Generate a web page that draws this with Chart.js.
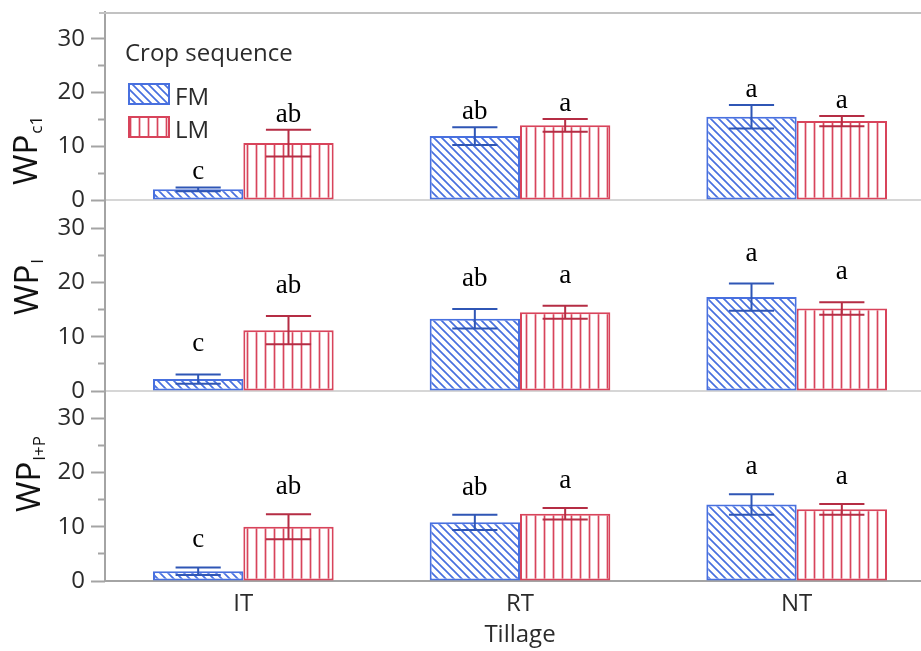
<!DOCTYPE html>
<html>
<head>
<meta charset="utf-8">
<script src="https://cdn.jsdelivr.net/npm/chart.js@4.4.1/dist/chart.umd.min.js"></script>
<style>
  html, body { margin: 0; padding: 0; background: #ffffff; overflow: hidden; width: 921px; height: 651px; }
  #wrap { position: relative; width: 921px; height: 651px; overflow: hidden; }
  #wrap canvas { position: absolute; left: 0; }
</style>
</head>
<body>
<div id="wrap">
  <canvas id="pTop" width="935" height="216" style="top:0px"></canvas>
  <canvas id="pMid" width="935" height="208" style="top:199px"></canvas>
  <canvas id="pBot" width="935" height="262" style="top:389px"></canvas>
</div>
<script>
// ---- data -------------------------------------------------------------
const tillage = ['IT', 'RT', 'NT'];
const sequences = ['FM', 'LM'];
const legendTitle = 'Crop sequence';
const xTitle = 'Tillage';
const yTickLabels = [0, 10, 20, 30];
const yMinorTicks = [5, 15, 25];

// WPc1
const wpc1FM   = [2.0, 11.9, 15.5];
const wpc1FMse = [0.35, 1.65, 2.2];
const wpc1LM   = [10.6, 13.9, 14.7];
const wpc1LMse = [2.5, 1.2, 0.95];

// WPI
const wpiFM   = [2.2, 13.3, 17.3];
const wpiFMse = [0.85, 1.8, 2.5];
const wpiLM   = [11.2, 14.5, 15.2];
const wpiLMse = [2.6, 1.2, 1.15];

// WPI+P
const wpipFM   = [1.8, 10.8, 14.1];
const wpipFMse = [0.7, 1.4, 1.9];
const wpipLM   = [10.0, 12.4, 13.2];
const wpipLMse = [2.3, 1.05, 1.0];

// mean separation letters
const lettersFM = ['c', 'ab', 'a'];
const lettersLM = ['ab', 'a', 'a'];

// ---- styles -----------------------------------------------------------
const FM_LINE = '#4870df';
const FM_ERR  = '#2f56b5';
const LM_LINE = '#d8445b';
const LM_ERR  = '#b52d44';
const AXIS    = '#a4a4a4';
const TEXT    = '#2b2b2b';
const SANS    = '"Open Sans", "Noto Sans", sans-serif';
const SERIF   = '"Liberation Serif", "DejaVu Serif", serif';
const NONE    = 'rgba(0,0,0,0)';

function hatch(kind, color) {
  const s = kind === 'diag' ? 8 : 9;
  const c = document.createElement('canvas');
  c.width = s; c.height = s;
  const g = c.getContext('2d');
  g.fillStyle = '#ffffff';
  g.fillRect(0, 0, s, s);
  g.strokeStyle = color;
  g.lineWidth = 1.7;
  g.beginPath();
  if (kind === 'diag') {
    for (let k = -1; k <= 1; k++) {
      g.moveTo(k * s - 1, -1);
      g.lineTo(k * s + s + 1, s + 1);
    }
  } else {
    g.moveTo(s / 2, 0);
    g.lineTo(s / 2, s);
  }
  g.stroke();
  return g.createPattern(c, 'repeat');
}
const fmFill = hatch('diag', FM_LINE);
const lmFill = hatch('vert', LM_LINE);

// ---- plugins ----------------------------------------------------------
const errorBars = {
  id: 'errorBars',
  afterDatasetsDraw(chart, args, opts) {
    const ctx = chart.ctx;
    const y = chart.scales.y;
    chart.data.datasets.forEach((ds, di) => {
      const meta = chart.getDatasetMeta(di);
      meta.data.forEach((bar, i) => {
        const v = ds.data[i], e = ds.errors[i];
        const top = y.getPixelForValue(v + e);
        const bot = y.getPixelForValue(v - e);
        const half = bar.width / 4;
        ctx.save();
        ctx.strokeStyle = ds.errorColor;
        ctx.lineWidth = 2;
        ctx.beginPath();
        ctx.moveTo(bar.x, top); ctx.lineTo(bar.x, bot);
        ctx.moveTo(bar.x - half, top); ctx.lineTo(bar.x + half, top);
        ctx.moveTo(bar.x - half, bot); ctx.lineTo(bar.x + half, bot);
        ctx.stroke();
        // letter above the bar
        ctx.fillStyle = '#000000';
        ctx.font = '27px ' + SERIF;
        ctx.textAlign = 'center';
        ctx.textBaseline = 'alphabetic';
        ctx.fillText(ds.letters[i], bar.x, top - opts.gap);
        ctx.restore();
      });
    });
  }
};

const yTitle = {
  id: 'yTitle',
  afterDraw(chart, args, opts) {
    const ctx = chart.ctx;
    ctx.save();
    ctx.translate(opts.x, opts.y);
    ctx.rotate(-Math.PI / 2);
    ctx.fillStyle = '#111111';
    ctx.textAlign = 'left';
    ctx.textBaseline = 'alphabetic';
    ctx.font = '33px ' + SANS;
    ctx.fillText(opts.main, 0, 0);
    const w = ctx.measureText(opts.main).width;
    ctx.font = '17px ' + SANS;
    ctx.fillText(opts.sub, w + 1, 5);
    ctx.restore();
  }
};

const frameTop = {
  id: 'frameTop',
  afterDraw(chart, args, opts) {
    if (!opts.show) return;
    const {ctx, chartArea} = chart;
    ctx.save();
    ctx.strokeStyle = '#c2c2c2';
    ctx.lineWidth = 2;
    ctx.beginPath();
    ctx.moveTo(chartArea.left - 6, chartArea.top + 1);
    ctx.lineTo(chartArea.right, chartArea.top + 1);
    ctx.stroke();
    ctx.restore();
  }
};

const insideLegend = {
  id: 'insideLegend',
  afterDraw(chart, args, opts) {
    if (!opts.show) return;
    const {ctx, chartArea} = chart;
    const L = chartArea.left, T = chartArea.top;
    ctx.save();
    ctx.fillStyle = TEXT;
    ctx.font = '24px ' + SANS;
    ctx.textAlign = 'left';
    ctx.textBaseline = 'alphabetic';
    ctx.fillText(opts.title, L + 20, T + 49);
    chart.data.datasets.forEach((ds, i) => {
      const bx = L + 23, by = T + 71 + i * 33, bw = 42, bh = 22;
      ctx.fillStyle = ds.backgroundColor;
      ctx.fillRect(bx, by, bw, bh);
      ctx.strokeStyle = ds.borderColor;
      ctx.lineWidth = 2;
      ctx.strokeRect(bx + 1, by + 1, bw - 2, bh - 2);
      ctx.fillStyle = TEXT;
      ctx.font = '24px ' + SANS;
      ctx.fillText(ds.label, bx + bw + 5, by + bh);
    });
    ctx.restore();
  }
};

// tick-mark-only axis sitting on the chart area's left edge
function markAxis(values, length, weight) {
  return {
    position: 'left',
    min: 0, max: 35,
    weight: weight,
    afterFit: s => { s.width = 0; },
    border: { display: false },
    grid: {
      drawOnChartArea: false, drawTicks: true, tickLength: length, tickWidth: 2,
      tickColor: c => values.includes(c.tick.value) ? AXIS : NONE
    },
    ticks: { stepSize: 5, autoSkip: false, display: false, padding: 0, font: { size: 2, lineHeight: 0.1 } }
  };
}

// ---- panel builder ----------------------------------------------------
function panel(id, cfg) {
  const isBottom = !!cfg.bottom;
  return new Chart(document.getElementById(id), {
    type: 'bar',
    data: {
      labels: tillage,
      datasets: [
        { label: sequences[0], data: cfg.fm, errors: cfg.fmSe, letters: lettersFM,
          backgroundColor: fmFill, borderColor: FM_LINE, errorColor: FM_ERR },
        { label: sequences[1], data: cfg.lm, errors: cfg.lmSe, letters: lettersLM,
          backgroundColor: lmFill, borderColor: LM_LINE, errorColor: LM_ERR }
      ]
    },
    options: {
      responsive: false,
      animation: false,
      events: [],
      layout: { padding: { top: cfg.padTop, left: 0, right: 0, bottom: cfg.padBottom || 0 } },
      datasets: { bar: { categoryPercentage: 0.653, barPercentage: 1.0, borderWidth: 2, borderSkipped: false } },
      plugins: {
        legend: { display: false },
        tooltip: { enabled: false },
        errorBars: { gap: cfg.gap },
        yTitle: cfg.title,
        frameTop: { show: !!cfg.frame },
        insideLegend: { show: !!cfg.legend, title: legendTitle }
      },
      scales: {
        x: {
          type: 'category',
          offset: true,
          afterFit: s => { s.height = isBottom ? 70 : 2; },
          border: { display: true, color: isBottom ? AXIS : '#d6d6d6', width: 2 },
          grid: { display: false, drawTicks: false },
          ticks: { display: isBottom, padding: 9, color: TEXT, font: { family: SANS, size: 24 } },
          title: { display: isBottom, text: xTitle, color: TEXT, font: { family: SANS, size: 24, lineHeight: 1.2 }, padding: { top: 0, bottom: 1 } }
        },
        // labelled value axis: labels sit 20px left of the axis line
        y: {
          min: 0, max: 35,
          weight: 2,
          afterFit: s => { s.width = 105; },
          border: { display: true, color: AXIS, width: 2 },
          grid: { drawOnChartArea: false, drawTicks: true, tickLength: 20, tickColor: NONE },
          ticks: {
            stepSize: 5, autoSkip: false, padding: 0, color: TEXT,
            font: { family: SANS, size: 24, lineHeight: 0.1 },
            callback: v => yTickLabels.includes(v) ? String(v) : ''
          }
        },
        yMajor: markAxis(yTickLabels, 14, 1),
        yMinor: markAxis(yMinorTicks, 7, 0)
      }
    },
    plugins: [errorBars, yTitle, frameTop, insideLegend]
  });
}

panel('pTop', {
  fm: wpc1FM, fmSe: wpc1FMse, lm: wpc1LM, lmSe: wpc1LMse,
  padTop: 12, padBottom: 14, gap: 8, frame: true, legend: true,
  title: { main: 'WP', sub: 'c1', x: 37, y: 185 }
});
panel('pMid', {
  fm: wpiFM, fmSe: wpiFMse, lm: wpiLM, lmSe: wpiLMse,
  padTop: 2, padBottom: 14, gap: 23,
  title: { main: 'WP', sub: 'I', x: 38, y: 116 }
});
panel('pBot', {
  fm: wpipFM, fmSe: wpipFMse, lm: wpipLM, lmSe: wpipLMse,
  padTop: 2, gap: 20, bottom: true,
  title: { main: 'WP', sub: 'I+P', x: 40, y: 123 }
});
</script>
</body>
</html>
